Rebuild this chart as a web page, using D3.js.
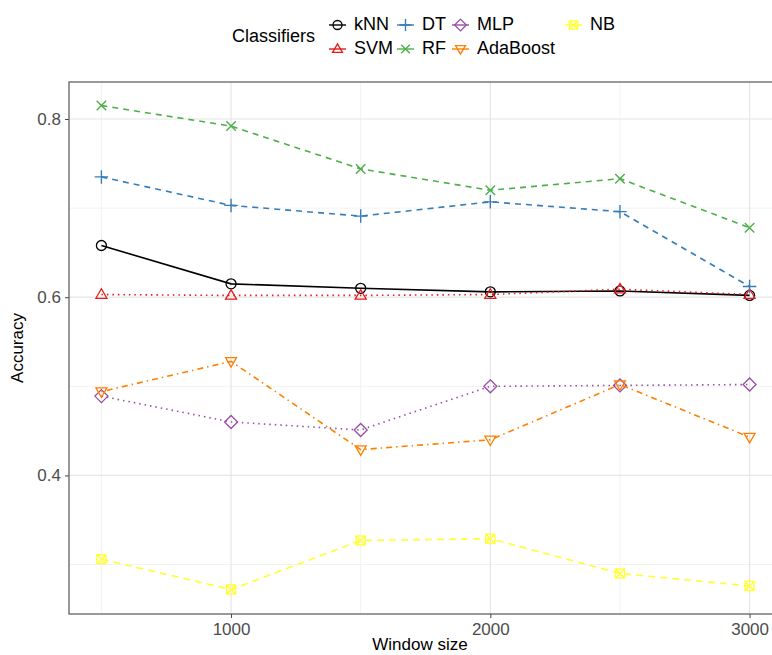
<!DOCTYPE html>
<html>
<head>
<meta charset="utf-8">
<script src="https://cdn.jsdelivr.net/npm/d3@7"></script>
<style>
  body { margin: 0; background: #fff; overflow: hidden; }
  text { font-family: "Liberation Sans", Arial, sans-serif; }
</style>
</head>
<body>
<div id="chart"></div>
<script>
// window sizes on the x axis
var windows = [500, 1000, 1500, 2000, 2500, 3000]

// classifier names, in legend order
var classifiers = ["kNN", "SVM", "DT", "RF", "MLP", "AdaBoost", "NB"]

// accuracy per classifier, one value per window size
var knn      = [0.658, 0.615, 0.610, 0.606, 0.607, 0.602]
var svm      = [0.603, 0.602, 0.602, 0.603, 0.609, 0.603]
var dt       = [0.735, 0.703, 0.691, 0.707, 0.696, 0.612]
var rf       = [0.815, 0.792, 0.744, 0.720, 0.733, 0.678]
var mlp      = [0.489, 0.460, 0.451, 0.500, 0.501, 0.502]
var adaboost = [0.494, 0.528, 0.429, 0.440, 0.502, 0.443]
var nb       = [0.306, 0.272, 0.327, 0.329, 0.290, 0.276]

var xTicks = [1000, 2000, 3000]
var yTicks = [0.4, 0.6, 0.8]
var yMinor = [0.3, 0.5, 0.7]

var seriesValues = [knn, svm, dt, rf, mlp, adaboost, nb]

var width = 772,
    height = 655,
    // the panel runs a little past the right edge of the picture
    margin = {top: 82, right: -10, bottom: 41, left: 69}

var colors = ["#000000", "#E41A1C", "#377EB8", "#4DAF4A", "#984EA3", "#FF7F00", "#FFFF33"]
var dashes = ["none", "1.5,4", "6,5", "6,5", "1.5,4", "1.5,4,6,4", "7,5"]
var shapes = ["circle", "triangle", "plus", "cross", "diamond", "triangleDown", "squareCross"]

var svg = d3.select("#chart")
  .append("svg")
    .attr("width", width)
    .attr("height", height)

var x = d3.scaleLinear()
  .domain([375, 3125])
  .range([margin.left, width - margin.right])

var y = d3.scaleLinear()
  .domain([0.2445, 0.8415])
  .range([height - margin.bottom, margin.top])

// grid lines
var grid = svg.append("g")
grid.selectAll(".minor-y")
  .data(yMinor)
  .enter().append("line")
    .attr("x1", margin.left).attr("x2", width - margin.right)
    .attr("y1", d => y(d)).attr("y2", d => y(d))
    .attr("stroke", "#F2F2F2").attr("stroke-width", 1)
grid.selectAll(".minor-x")
  .data([500, 1500, 2500])
  .enter().append("line")
    .attr("x1", d => x(d)).attr("x2", d => x(d))
    .attr("y1", margin.top).attr("y2", height - margin.bottom)
    .attr("stroke", "#F2F2F2").attr("stroke-width", 1)
grid.selectAll(".major-y")
  .data(yTicks)
  .enter().append("line")
    .attr("x1", margin.left).attr("x2", width - margin.right)
    .attr("y1", d => y(d)).attr("y2", d => y(d))
    .attr("stroke", "#E6E6E6").attr("stroke-width", 1.2)
grid.selectAll(".major-x")
  .data(xTicks)
  .enter().append("line")
    .attr("x1", d => x(d)).attr("x2", d => x(d))
    .attr("y1", margin.top).attr("y2", height - margin.bottom)
    .attr("stroke", "#E6E6E6").attr("stroke-width", 1.2)

// axes
var xAxis = svg.append("g")
  .attr("transform", "translate(0," + (height - margin.bottom) + ")")
  .call(d3.axisBottom(x).tickValues(xTicks).tickSize(4).tickPadding(5).tickFormat(d3.format("d")))
xAxis.select(".domain").remove()
xAxis.selectAll("line").attr("stroke", "#444")
xAxis.selectAll("text").attr("font-size", 17).attr("fill", "#4D4D4D")

var yAxis = svg.append("g")
  .attr("transform", "translate(" + margin.left + ",0)")
  .call(d3.axisLeft(y).tickValues(yTicks).tickSize(4).tickPadding(4).tickFormat(d3.format(".1f")))
yAxis.select(".domain").remove()
yAxis.selectAll("line").attr("stroke", "#444")
yAxis.selectAll("text").attr("font-size", 17).attr("fill", "#4D4D4D")

// panel border
svg.append("rect")
  .attr("x", margin.left)
  .attr("y", margin.top)
  .attr("width", width - margin.left - margin.right)
  .attr("height", height - margin.top - margin.bottom)
  .attr("fill", "none")
  .attr("stroke", "#555")
  .attr("stroke-width", 1.2)

// axis titles
svg.append("text")
  .attr("x", 420)
  .attr("y", 650)
  .attr("text-anchor", "middle")
  .attr("font-size", 17)
  .text("Window size")

svg.append("text")
  .attr("transform", "translate(23," + ((margin.top + height - margin.bottom) / 2) + ") rotate(-90)")
  .attr("text-anchor", "middle")
  .attr("font-size", 17)
  .text("Accuracy")

// draw a point shape centred on 0,0
function drawShape(g, shape, color, r) {
  if (shape === "circle") {
    g.append("circle").attr("r", r).attr("fill", "none").attr("stroke", color).attr("stroke-width", 1.3)
  } else if (shape === "triangle") {
    g.append("path").attr("d", "M0," + (-r * 1.15) + "L" + (r * 1.1) + "," + (r * 0.75) + "L" + (-r * 1.1) + "," + (r * 0.75) + "Z")
      .attr("fill", "none").attr("stroke", color).attr("stroke-width", 1.3)
  } else if (shape === "triangleDown") {
    g.append("path").attr("d", "M0," + (r * 1.15) + "L" + (r * 1.1) + "," + (-r * 0.75) + "L" + (-r * 1.1) + "," + (-r * 0.75) + "Z")
      .attr("fill", "none").attr("stroke", color).attr("stroke-width", 1.3)
  } else if (shape === "diamond") {
    var s = r * 1.3
    g.append("path").attr("d", "M0," + (-s) + "L" + s + ",0L0," + s + "L" + (-s) + ",0Z")
      .attr("fill", "none").attr("stroke", color).attr("stroke-width", 1.3)
  } else if (shape === "plus") {
    var p = r * 1.35
    g.append("path").attr("d", "M" + (-p) + ",0H" + p + "M0," + (-p) + "V" + p)
      .attr("stroke", color).attr("stroke-width", 1.4)
  } else if (shape === "cross") {
    var c = r * 0.95
    g.append("path").attr("d", "M" + (-c) + "," + (-c) + "L" + c + "," + c + "M" + (-c) + "," + c + "L" + c + "," + (-c))
      .attr("stroke", color).attr("stroke-width", 1.4)
  } else if (shape === "squareCross") {
    var q = r * 0.9
    g.append("rect").attr("x", -q).attr("y", -q).attr("width", 2 * q).attr("height", 2 * q)
      .attr("fill", "none").attr("stroke", color).attr("stroke-width", 1.4)
    g.append("path").attr("d", "M" + (-q) + "," + (-q) + "L" + q + "," + q + "M" + (-q) + "," + q + "L" + q + "," + (-q))
      .attr("stroke", color).attr("stroke-width", 1.4)
  }
}

var line = d3.line()
  .x((d, i) => x(windows[i]))
  .y(d => y(d))

// lines and points, one group per classifier
var series = svg.selectAll(".series")
  .data(seriesValues)
  .enter().append("g")
    .attr("class", "series")

series.append("path")
  .attr("d", d => line(d))
  .attr("fill", "none")
  .attr("stroke", (d, i) => colors[i])
  .attr("stroke-width", 1.6)
  .attr("stroke-dasharray", (d, i) => dashes[i])

series.each(function(vals, si) {
  var g = d3.select(this)
  vals.forEach(function(v, i) {
    var pg = g.append("g").attr("transform", "translate(" + x(windows[i]) + "," + y(v) + ")")
    drawShape(pg, shapes[si], colors[si], 5)
  })
})

// legend
var legend = svg.append("g")
legend.append("text")
  .attr("x", 232)
  .attr("y", 37)
  .attr("dominant-baseline", "middle")
  .attr("font-size", 18)
  .text("Classifiers")

var colX = [329, 397, 452, 565]
var rowY = [25, 49]
classifiers.forEach(function(name, i) {
  var col = Math.floor(i / 2), row = i % 2
  var kx = colX[col], ky = rowY[row]
  var item = legend.append("g").attr("transform", "translate(" + kx + "," + ky + ")")
  item.append("line")
    .attr("x1", 0).attr("x2", 17)
    .attr("stroke", colors[i])
    .attr("stroke-width", 1.4)
  var sg = item.append("g").attr("transform", "translate(8.5,0)")
  drawShape(sg, shapes[i], colors[i], 4.5)
  item.append("text")
    .attr("x", 25)
    .attr("dominant-baseline", "middle")
    .attr("font-size", 18)
    .text(name)
})
</script>
</body>
</html>
